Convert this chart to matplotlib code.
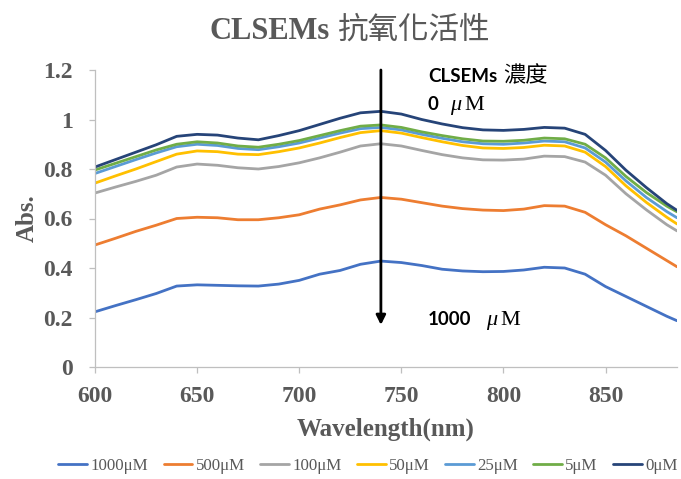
import matplotlib.pyplot as plt

# wavelengths (nm) and absorbance for each CLSEMs concentration
wl = [600, 610, 620, 630, 640, 650, 660, 670, 680, 690, 700, 710, 720, 730, 740,
      750, 760, 770, 780, 790, 800, 810, 820, 830, 840, 850, 860, 870, 880, 885]

abs_1000 = [0.223, 0.248, 0.272, 0.297, 0.327, 0.332, 0.330, 0.328, 0.327, 0.335,
            0.350, 0.375, 0.390, 0.415, 0.428, 0.422, 0.410, 0.395, 0.388, 0.385,
            0.386, 0.392, 0.403, 0.400, 0.375, 0.325, 0.285, 0.245, 0.205, 0.187]
abs_500 = [0.493, 0.520, 0.548, 0.573, 0.600, 0.605, 0.603, 0.595, 0.595, 0.603,
           0.615, 0.638, 0.655, 0.675, 0.685, 0.678, 0.664, 0.650, 0.640, 0.634,
           0.632, 0.638, 0.652, 0.650, 0.625, 0.575, 0.530, 0.480, 0.430, 0.405]
abs_100 = [0.703, 0.727, 0.750, 0.775, 0.808, 0.820, 0.815, 0.805, 0.800, 0.810,
           0.825, 0.845, 0.868, 0.893, 0.902, 0.893, 0.875, 0.858, 0.845, 0.837,
           0.836, 0.840, 0.852, 0.850, 0.828, 0.775, 0.700, 0.635, 0.575, 0.550]
abs_50 = [0.743, 0.772, 0.800, 0.830, 0.860, 0.873, 0.870, 0.860, 0.858, 0.870,
          0.885, 0.905, 0.927, 0.947, 0.955, 0.945, 0.927, 0.910, 0.895, 0.885,
          0.883, 0.887, 0.896, 0.893, 0.868, 0.810, 0.732, 0.665, 0.605, 0.578]
abs_25 = [0.782, 0.810, 0.838, 0.865, 0.890, 0.900, 0.895, 0.883, 0.878, 0.890,
          0.905, 0.925, 0.945, 0.963, 0.968, 0.958, 0.940, 0.924, 0.910, 0.902,
          0.900, 0.905, 0.913, 0.910, 0.885, 0.828, 0.752, 0.685, 0.628, 0.603]
abs_5 = [0.796, 0.823, 0.850, 0.877, 0.900, 0.910, 0.905, 0.893, 0.888, 0.900,
         0.915, 0.935, 0.955, 0.973, 0.978, 0.968, 0.950, 0.935, 0.922, 0.913,
         0.912, 0.916, 0.925, 0.922, 0.900, 0.845, 0.770, 0.705, 0.650, 0.627]
abs_0 = [0.808, 0.838, 0.868, 0.898, 0.932, 0.940, 0.937, 0.925, 0.918, 0.935,
         0.955, 0.980, 1.005, 1.027, 1.033, 1.022, 1.000, 0.982, 0.967, 0.958,
         0.956, 0.960, 0.968, 0.965, 0.940, 0.875, 0.795, 0.725, 0.660, 0.633]

labels = ['1000μM', '500μM', '100μM', '50μM', '25μM', '5μM', '0μM']
series = [abs_1000, abs_500, abs_100, abs_50, abs_25, abs_5, abs_0]
colors = ['#4472C4', '#ED7D31', '#A5A5A5', '#FFC000', '#5B9BD5', '#70AD47', '#264478']

xticks = [600, 650, 700, 750, 800, 850]
yticks = [0, 0.2, 0.4, 0.6, 0.8, 1, 1.2]
ytick_labels = ['0', '0.2', '0.4', '0.6', '0.8', '1', '1.2']

gray = '#595959'
serif = 'Liberation Serif'

W, H = 681, 479
fig = plt.figure(figsize=(W / 100, H / 100), dpi=100)
ax = fig.add_axes([95 / W, 1 - 367 / H, (677 - 95) / W, (367 - 70) / H])

for y, c, lab in zip(series, colors, labels):
    ax.plot(wl, y, color=c, lw=2, label=lab, solid_capstyle='round',
            solid_joinstyle='round')

ax.set_xlim(600, 885)
ax.set_ylim(0, 1.2)
ax.set_xticks(xticks)
ax.set_yticks(yticks)
ax.set_yticklabels(ytick_labels)
for side in ['top', 'right']:
    ax.spines[side].set_visible(False)
for side in ['left', 'bottom']:
    ax.spines[side].set_color('#BFBFBF')
    ax.spines[side].set_linewidth(0.9)
ax.tick_params(colors='#BFBFBF', length=4, width=0.9, direction='out')
ax.tick_params(axis='x', pad=9.5)
ax.tick_params(axis='y', pad=12)
for t in ax.get_xticklabels() + ax.get_yticklabels():
    t.set_fontfamily(serif)
    t.set_fontweight('bold')
    t.set_fontsize(17)
    t.set_color(gray)

ax.set_xlabel('Wavelength(nm)', fontfamily=serif, fontweight='bold', fontsize=18,
              color=gray, labelpad=8)
ax.set_ylabel('Abs.', fontfamily=serif, fontweight='bold', fontsize=18,
              color=gray, labelpad=3)

# title: latin part bold serif, chinese part regular
fig.text(330 / W, 1 - 39 / H, 'CLSEMs', fontfamily=serif, fontweight='bold',
         fontsize=22, color=gray, ha='right', va='baseline')
fig.text(337 / W, 1 - 39 / H, '抗氧化活性', fontfamily='Noto Sans CJK TC',
         fontsize=22, color=gray, ha='left', va='baseline')

# concentration arrow
ax.annotate('', xy=(740, 0.17), xytext=(740, 1.2), xycoords='data',
            arrowprops=dict(arrowstyle='-|>', color='black', lw=2,
                            mutation_scale=14, shrinkA=0, shrinkB=0),
            annotation_clip=False)

fig.text(428 / W, 1 - 82 / H, 'CLSEMs', fontfamily='Lato', fontweight='bold',
         fontsize=13.5, color='black', ha='left', va='baseline')
fig.text(503 / W, 1 - 82 / H, '濃度', fontfamily='Noto Sans CJK TC',
         fontsize=16, color='black', ha='left', va='baseline')
fig.text(428 / W, 1 - 110 / H, '0', fontfamily='Lato', fontweight='bold',
         fontsize=13.5, color='black', ha='left', va='baseline')
fig.text(450 / W, 1 - 110 / H, 'μ', fontfamily=serif, fontstyle='italic',
         fontsize=16, color='black', ha='left', va='baseline')
fig.text(464 / W, 1 - 110 / H, 'M', fontfamily=serif,
         fontsize=16, color='black', ha='left', va='baseline')
fig.text(428 / W, 1 - 325 / H, '1000', fontfamily='Lato', fontweight='bold',
         fontsize=13.5, color='black', ha='left', va='baseline')
fig.text(486 / W, 1 - 325 / H, 'μ', fontfamily=serif, fontstyle='italic',
         fontsize=16, color='black', ha='left', va='baseline')
fig.text(500 / W, 1 - 325 / H, 'M', fontfamily=serif,
         fontsize=16, color='black', ha='left', va='baseline')

leg = fig.legend(loc='center', bbox_to_anchor=(368 / W, 1 - 466 / H), ncol=7,
                 frameon=False, prop={'family': serif, 'size': 12.2},
                 handlelength=1.7, handletextpad=0.2, columnspacing=0.9)
for t in leg.get_texts():
    t.set_color(gray)

fig.savefig('out.png', dpi=100)
